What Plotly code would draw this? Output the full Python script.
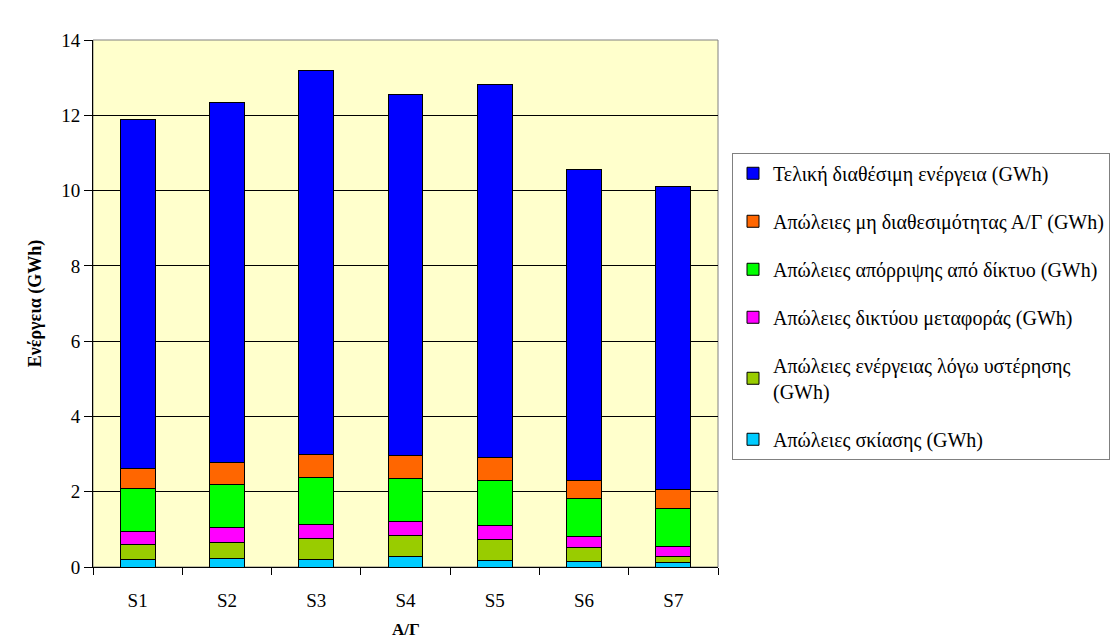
import plotly.graph_objects as go

categories = ["S1", "S2", "S3", "S4", "S5", "S6", "S7"]

# Stacked components per scenario (GWh), bottom to top
shading_loss = [0.20, 0.23, 0.21, 0.27, 0.17, 0.15, 0.11]
hysteresis_loss = [0.41, 0.43, 0.56, 0.56, 0.57, 0.36, 0.16]
transmission_loss = [0.34, 0.38, 0.37, 0.38, 0.37, 0.31, 0.27]
curtailment_loss = [1.13, 1.15, 1.24, 1.15, 1.20, 0.99, 1.02]
unavailability_loss = [0.53, 0.58, 0.62, 0.60, 0.59, 0.48, 0.49]
final_energy = [9.27, 9.58, 10.20, 9.60, 9.91, 8.28, 8.07]

series = [
    ("Απώλειες σκίασης (GWh)", shading_loss, "#00CCFF"),
    ("Απώλειες ενέργειας λόγω υστέρησης<br>(GWh)", hysteresis_loss, "#99CC00"),
    ("Απώλειες δικτύου μεταφοράς (GWh)", transmission_loss, "#FF00FF"),
    ("Απώλειες απόρριψης από δίκτυο (GWh)", curtailment_loss, "#00FF00"),
    ("Απώλειες μη διαθεσιμότητας Α/Γ (GWh)", unavailability_loss, "#FF6600"),
    ("Τελική διαθέσιμη ενέργεια (GWh)", final_energy, "#0000FF"),
]

SERIF = "Times New Roman, Liberation Serif, DejaVu Serif, serif"

fig = go.Figure()
n = len(series)
for i, (name, vals, color) in enumerate(series):
    fig.add_trace(go.Bar(
        x=categories, y=vals, name=name,
        legendgroup=f"g{i}",
        legendrank=n - i,
        marker=dict(color=color, line=dict(color="#000000", width=1)),
    ))

L, R, T, B = 93, 395, 40, 72
fig.update_layout(
    width=1113, height=639,
    margin=dict(l=L, r=R, t=T, b=B, autoexpand=False),
    barmode="stack",
    bargap=0.61,
    paper_bgcolor="#FFFFFF",
    plot_bgcolor="#FFFFCC",
    font=dict(family=SERIF, color="#000000"),
    showlegend=True,
    legend=dict(
        traceorder="grouped",
        x=1.0224, xanchor="left",
        y=0.786, yanchor="top",
        bordercolor="#808080", borderwidth=1,
        bgcolor="#FFFFFF",
        font=dict(family=SERIF, size=20, color="#000000"),
        tracegroupgap=19,
        itemwidth=30,
    ),
    xaxis=dict(
        tickfont=dict(family=SERIF, size=19),
        ticklabelstandoff=16,
        automargin=False,
        showline=True, linecolor="#000000", linewidth=1,
        ticks="outside", ticklen=7, tickcolor="#000000",
        tickson="boundaries",
        mirror=False,
    ),
    yaxis=dict(
        title=dict(text="<b>Ενέργεια (GWh)</b>", font=dict(family=SERIF, size=18), standoff=14),
        tickfont=dict(family=SERIF, size=19),
        automargin=False,
        range=[0, 14], dtick=2,
        showgrid=True, gridcolor="#000000", gridwidth=1,
        showline=True, linecolor="#000000", linewidth=1,
        ticks="outside", ticklen=8, tickcolor="#000000",
        zeroline=False,
    ),
)

# x-axis title placed below the category labels
fig.add_annotation(
    text="<b>Α/Γ</b>", xref="paper", yref="paper",
    x=0.5, y=-0.1195, xanchor="center", yanchor="middle",
    showarrow=False, font=dict(family=SERIF, size=17, color="#000000"),
)

# plot area frame (top and right edges)
fig.add_shape(type="rect", xref="paper", yref="paper", x0=0, x1=1, y0=0, y1=1,
              line=dict(color="#808080", width=1), layer="below")

fig.write_html("out.html")
